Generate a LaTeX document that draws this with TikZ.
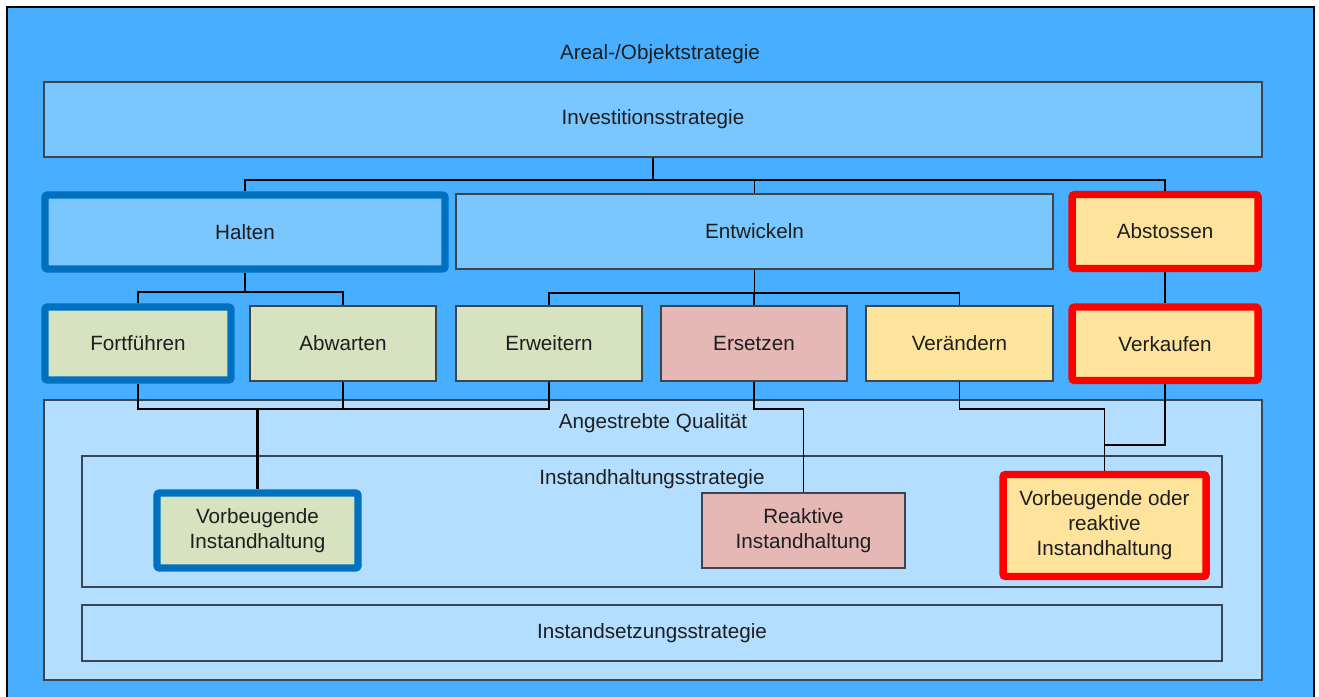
\documentclass[tikz,border=0pt]{standalone}
\usepackage{fontspec}
\setmainfont{Liberation Sans}
\definecolor{bgblue}{HTML}{48AEFF}
\definecolor{midblue}{HTML}{7AC6FF}
\definecolor{paleblue}{HTML}{B3DEFF}
\definecolor{boxgreen}{HTML}{D6E2C0}
\definecolor{boxpink}{HTML}{E5B8B5}
\definecolor{boxyellow}{HTML}{FDE39B}
\definecolor{thickblue}{HTML}{0070C0}
\definecolor{txt}{HTML}{1E1E1E}
\definecolor{frame}{HTML}{3A4550}
\begin{document}
\begin{tikzpicture}[x=0.75pt,y=-0.75pt,
  lbl/.style={text=txt,font=\fontsize{15.5}{18.75}\selectfont,inner sep=0pt,align=center},
  box/.style={lbl,draw=frame,line width=0.8pt,rectangle},
  hiblue/.style={draw=thickblue,line width=5.6pt,rounded corners=2pt},
  hired/.style={draw=red,line width=5.6pt,rounded corners=2pt},
  container/.style={draw=frame,line width=0.8pt,fill=paleblue},
  conn/.style={draw=black,line width=1.2pt},
  connthick/.style={draw=black,line width=1.8pt}]
\useasboundingbox (0,0) rectangle (1319,696);
\begin{scope}
\clip (0,0) rectangle (1319,696);
\draw[fill=bgblue,draw=black,line width=0.8pt] (7,7) rectangle (1314,705);
\end{scope}
\node[lbl] (areal) at (660,54) {Areal-/Objektstrategie};
% containers
\draw[container] (44,400) rectangle (1262,680);
\draw[container] (82,456) rectangle (1222,587);
\draw[container] (82,605) rectangle (1222,661);
\node[lbl] (aq) at (653,423) {Angestrebte Qualität};
\node[lbl] (ihs) at (652,479) {Instandhaltungsstrategie};
\node[lbl] (iss) at (652,633) {Instandsetzungsstrategie};
% boxes
\node[box,fill=midblue,minimum width=1218*0.75pt,minimum height=75*0.75pt] (inv) at (653,119.5) {Investitionsstrategie};
\node[box,fill=midblue,hiblue,minimum width=400*0.75pt,minimum height=74*0.75pt] (halten) at (245,232) {Halten};
\node[box,fill=midblue,minimum width=597*0.75pt,minimum height=75*0.75pt] (entw) at (754.5,231.5) {Entwickeln};
\node[box,fill=boxyellow,hired,minimum width=186*0.75pt,minimum height=74*0.75pt] (abst) at (1165,231.5) {Abstossen};
\node[box,fill=boxgreen,hiblue,minimum width=186*0.75pt,minimum height=73*0.75pt] (fort) at (138,343.5) {Fortführen};
\node[box,fill=boxgreen,minimum width=186*0.75pt,minimum height=75*0.75pt] (abw) at (343,343.5) {Abwarten};
\node[box,fill=boxgreen,minimum width=186*0.75pt,minimum height=75*0.75pt] (erw) at (549,343.5) {Erweitern};
\node[box,fill=boxpink,minimum width=186*0.75pt,minimum height=75*0.75pt] (ers) at (754,343.5) {Ersetzen};
\node[box,fill=boxyellow,minimum width=187*0.75pt,minimum height=75*0.75pt] (ver) at (959.5,343.5) {Verändern};
\node[box,fill=boxyellow,hired,minimum width=186*0.75pt,minimum height=73.5*0.75pt] (verk) at (1165,343.75) {Verkaufen};
\node[box,fill=boxgreen,hiblue,minimum width=201*0.75pt,minimum height=75*0.75pt] (vorb) at (257.5,530.5) {Vorbeugende\\Instandhaltung};
\node[box,fill=boxpink,minimum width=203*0.75pt,minimum height=75*0.75pt] (reak) at (803.5,530.5) {Reaktive\\Instandhaltung};
\node[box,fill=boxyellow,hired,minimum width=203*0.75pt,minimum height=102*0.75pt] (vor2) at (1104.5,525.5) {Vorbeugende oder\\reaktive\\Instandhaltung};
% bus coordinates
\coordinate (busA) at (0,180);
\coordinate (busB) at (0,292);
\coordinate (busC) at (0,293);
\coordinate (busD) at (0,409);
\coordinate (busE) at (0,445);
% connectors
\draw[conn] (inv.south) -- (inv.south |- busA);
\draw[conn] (halten.north) -- (halten.north |- busA) -- (abst.north |- busA) -- (abst.north);
\draw[conn] (entw.north) -- (entw.north |- busA);
\draw[conn] (halten.south) -- (halten.south |- busB);
\draw[conn] (fort.north) -- (fort.north |- busB) -- (abw.north |- busB) -- (abw.north);
\draw[conn] (entw.south) -- (entw.south |- busC);
\draw[conn] (erw.north) -- (erw.north |- busC) -- (ver.north |- busC) -- (ver.north);
\draw[conn] (ers.north) -- (ers.north |- busC);
\draw[conn] (abst.south) -- (verk.north);
\draw[conn] (fort.south) -- (fort.south |- busD) -- (erw.south |- busD) -- (erw.south);
\draw[conn] (abw.south) -- (abw.south |- busD);
\draw[connthick] (vorb.north) -- (vorb.north |- busD);
\draw[conn] (ers.south) -- (ers.south |- busD) -- (reak.north |- busD) -- (reak.north);
\draw[conn] (ver.south) -- (ver.south |- busD) -- (vor2.north |- busD) -- (vor2.north);
\draw[conn] (verk.south) -- (verk.south |- busE) -- (vor2.north |- busE);
\end{tikzpicture}
\end{document}
